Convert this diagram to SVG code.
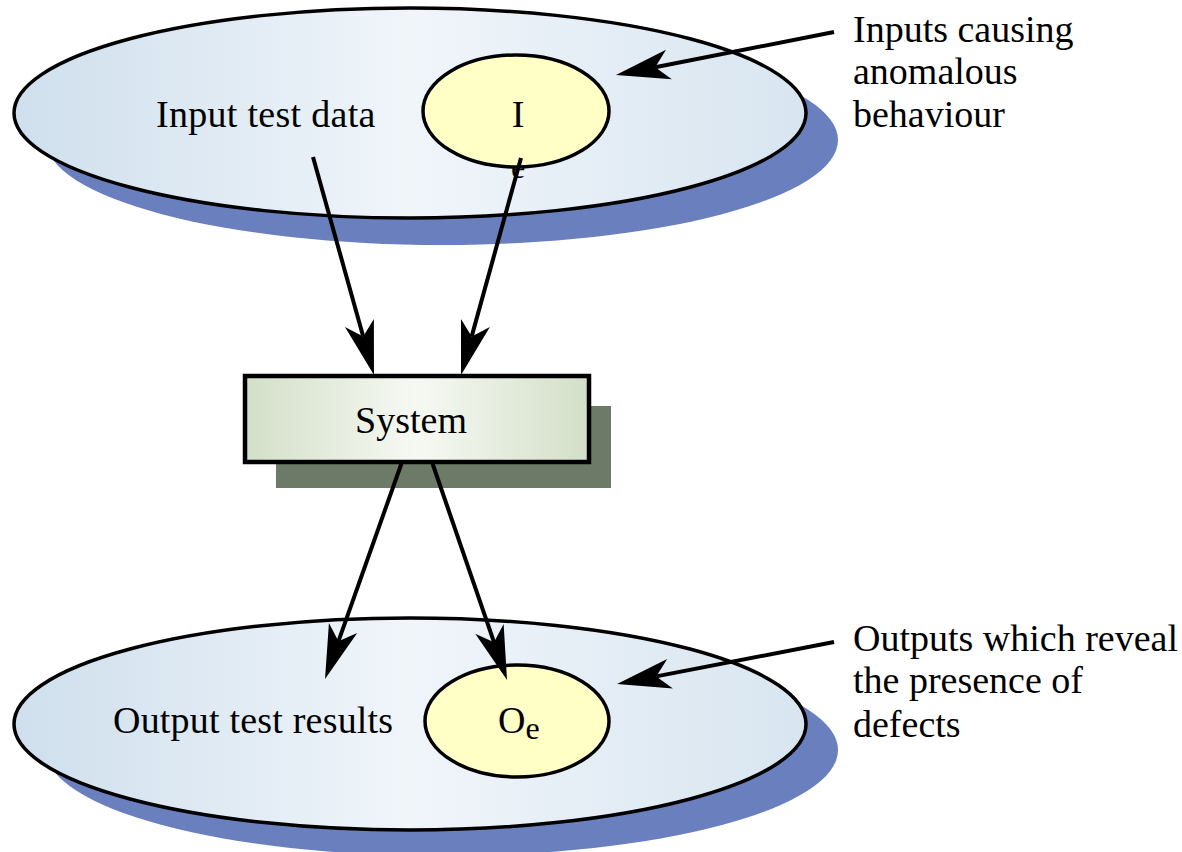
<svg xmlns="http://www.w3.org/2000/svg" width="1182" height="852" viewBox="0 0 1182 852">
  <defs>
    <linearGradient id="setFill" x1="0" y1="0" x2="1" y2="0">
      <stop offset="0" stop-color="#cfdfed"/>
      <stop offset="0.5" stop-color="#f0f5fa"/>
      <stop offset="1" stop-color="#d8e5f0"/>
    </linearGradient>
    <linearGradient id="boxFill" x1="0" y1="0" x2="1" y2="0">
      <stop offset="0" stop-color="#d3dfc8"/>
      <stop offset="0.5" stop-color="#f6f9f3"/>
      <stop offset="1" stop-color="#d3dfc8"/>
    </linearGradient>
    <!-- barbed arrowhead; (0,0) is where the shaft ends, tip is 40 units ahead -->
    <marker id="head" markerUnits="userSpaceOnUse" markerWidth="60" markerHeight="40" viewBox="-16 -18 60 36" refX="0" refY="0" orient="auto" overflow="visible">
      <path d="M40,0 L-14,-15 L0,0 L-14,15 Z" fill="#000"/>
    </marker>
  </defs>
  <style>
    .set { fill: url(#setFill); stroke: #000; stroke-width: 3.5; }
    .setShadow { fill: #6a7fbd; }
    .sub { fill: #ffffc6; stroke: #000; stroke-width: 3.5; }
    .box { fill: url(#boxFill); stroke: #000; stroke-width: 4.5; }
    .boxShadow { fill: #6e7a68; }
    .lbl { font-family: "Liberation Serif", "Times New Roman", serif; font-size: 38px; fill: #000; }
    .small { font-size: 32px; }
    .conn { stroke: #000; stroke-width: 4; fill: none; marker-end: url(#head); }
  </style>

  <rect width="1182" height="852" fill="#fff"/>

  <!-- input domain -->
  <g id="input-set">
    <ellipse class="setShadow" cx="442" cy="140" rx="396" ry="105"/>
    <ellipse class="set" cx="410" cy="113" rx="396" ry="105"/>
    <text class="lbl" x="156" y="127" letter-spacing="0.3">Input test data</text>
  </g>

  <g id="input-anomalous">
    <!-- subscript sits low, mostly behind the ellipse -->
    <text class="lbl small" x="511" y="178">e</text>
    <ellipse class="sub" cx="516" cy="111" rx="93" ry="56"/>
    <text class="lbl" x="518" y="127" text-anchor="middle">I</text>
  </g>

  <!-- system under test -->
  <g id="system">
    <rect class="boxShadow" x="276" y="406" width="335" height="82"/>
    <rect class="box" x="245" y="376" width="344" height="86"/>
    <text class="lbl" x="411" y="433" text-anchor="middle">System</text>
  </g>

  <!-- output domain -->
  <g id="output-set">
    <ellipse class="setShadow" cx="442" cy="750" rx="396" ry="106"/>
    <ellipse class="set" cx="410" cy="724" rx="396" ry="106"/>
    <text class="lbl" x="113" y="733" letter-spacing="0.2">Output test results</text>
  </g>

  <g id="output-defects">
    <ellipse class="sub" cx="517" cy="721" rx="92" ry="56"/>
    <text class="lbl" x="498" y="733">O<tspan class="small" dy="6">e</tspan></text>
  </g>

  <!-- side notes -->
  <g id="note-inputs">
    <text class="lbl" x="853" y="42">Inputs causing</text>
    <text class="lbl" x="853" y="84">anomalous</text>
    <text class="lbl" x="853" y="127">behaviour</text>
  </g>

  <g id="note-outputs">
    <text class="lbl" x="853" y="651">Outputs which reveal</text>
    <text class="lbl" x="853" y="693">the presence of</text>
    <text class="lbl" x="853" y="737">defects</text>
  </g>

  <!-- connectors -->
  <g id="connectors">
    <line class="conn" x1="313" y1="157" x2="363.2" y2="336.5"/>
    <line class="conn" x1="521" y1="158" x2="471.7" y2="336.4"/>
    <line class="conn" x1="402" y1="462" x2="338.4" y2="641.3"/>
    <line class="conn" x1="432" y1="462" x2="494" y2="642.2"/>
    <line class="conn" x1="834" y1="32" x2="655.2" y2="67.3"/>
    <line class="conn" x1="834" y1="642" x2="656.3" y2="676.4"/>
  </g>
</svg>
